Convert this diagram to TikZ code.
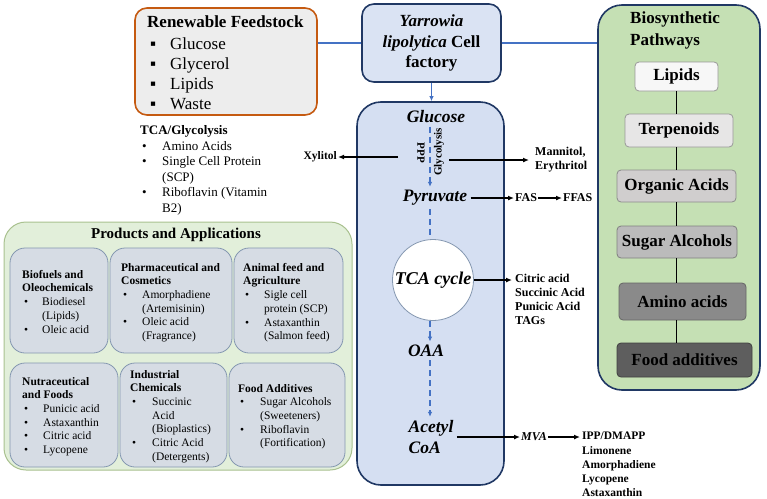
\documentclass[tikz,border=0pt]{standalone}
\usepackage{fontspec}
\setmainfont{Liberation Serif}
\usetikzlibrary{arrows.meta}
\definecolor{feedor}{HTML}{C55A11}
\definecolor{feedfill}{HTML}{EDEDED}
\definecolor{navy}{HTML}{203864}
\definecolor{lblue}{HTML}{DAE3F3}
\definecolor{pblue}{HTML}{D5DFF2}
\definecolor{linkblue}{HTML}{4472C4}
\definecolor{biogreen}{HTML}{C5E0B4}
\definecolor{prodgreen}{HTML}{E2EFDA}
\definecolor{prodedge}{HTML}{A9C18F}
\definecolor{subfill}{HTML}{D6DCE4}
\definecolor{subedge}{HTML}{8497B0}
\definecolor{gA}{HTML}{F7F7F7}
\definecolor{gB}{HTML}{E7E6E6}
\definecolor{gC}{HTML}{D0CECE}
\definecolor{gD}{HTML}{BBBBBB}
\definecolor{gE}{HTML}{8A8A8A}
\definecolor{gF}{HTML}{5E5E5E}
\newcommand{\itm}[2]{\hspace*{2pt}\makebox[#1][l]{•}#2}
\newcommand{\cnt}[2]{\hspace*{2pt}\hspace*{#1}#2}
\begin{document}
\begin{tikzpicture}[x=1pt,y=-1pt,
  feedbox/.style={draw=feedor,line width=1.6pt,fill=feedfill,rounded corners=12pt},
  cellbox/.style={draw=navy,line width=1.6pt,fill=lblue,rounded corners=12pt},
  biobox/.style={draw=navy,line width=1.6pt,fill=biogreen,rounded corners=24pt},
  pathbox/.style={draw=navy,line width=1.6pt,fill=pblue,rounded corners=24pt},
  prodbox/.style={draw=prodedge,line width=1pt,fill=prodgreen,rounded corners=22pt},
  subbox/.style={draw=subedge,line width=0.8pt,fill=subfill,rounded corners=15pt},
  grbox/.style={line width=0.8pt,rounded corners=4pt,font=\bfseries\fontsize{17}{20}\selectfont,text=black},
  link/.style={draw=linkblue,line width=1.5pt},
  arr/.style={draw=black,line width=1.4pt,-{Latex[length=6pt,width=5pt]}},
  darr/.style={draw=linkblue,line width=1.5pt,dash pattern=on 6pt off 4pt,-{Latex[length=5pt,width=4.5pt]}},
  dline/.style={draw=linkblue,line width=1.5pt,dash pattern=on 6pt off 4pt},
  blk/.style={anchor=north west,align=left,inner sep=0pt},
  sm/.style={font=\fontsize{11.5}{13.7}\selectfont},
  pw/.style={font=\bfseries\itshape\fontsize{17.5}{21}\selectfont},
  lab/.style={font=\bfseries\fontsize{12}{14}\selectfont}
]
\useasboundingbox (0,0) rectangle (767,498);

% ---------- Renewable feedstock ----------
\node[feedbox,minimum width=182pt,minimum height=107pt] (feed) at (226,61.5) {};
\node[anchor=west,inner sep=0pt,font=\bfseries\fontsize{17}{20}\selectfont] (feedt) at (147,22) {Renewable Feedstock};
\node[blk,font=\fontsize{17}{20}\selectfont] (feedl) at (150,38) {%
\makebox[20pt][l]{▪}Glucose\\
\makebox[20pt][l]{▪}Glycerol\\
\makebox[20pt][l]{▪}Lipids\\
\makebox[20pt][l]{▪}Waste};

% ---------- Cell factory ----------
\node[cellbox,minimum width=139pt,minimum height=78pt,align=center,
  font=\bfseries\fontsize{17}{20.5}\selectfont] (cell) at (431.5,43)
  {\textit{Yarrowia}\\\textit{lipolytica} Cell\\factory};

% ---------- Biosynthetic pathways ----------
\node[biobox,minimum width=162pt,minimum height=385pt] (bio) at (679,197.5) {};
\node[blk,font=\bfseries\fontsize{17}{21.5}\selectfont] (biot) at (630,12) {Biosynthetic\\Pathways};
\node[grbox,draw=black!40,fill=gA,minimum width=83pt,minimum height=29pt] (lip) at (676.5,76.5) {Lipids};
\node[grbox,draw=black!40,fill=gB,minimum width=108pt,minimum height=33pt] (terp) at (679,130.5) {Terpenoids};
\node[grbox,draw=black!45,fill=gC,minimum width=119pt,minimum height=32pt] (org) at (676.5,186) {Organic Acids};
\node[grbox,draw=black!50,fill=gD,minimum width=120pt,minimum height=32pt] (sug) at (677,242) {Sugar Alcohols};
\node[grbox,draw=black!60,fill=gE,minimum width=127pt,minimum height=37pt] (ami) at (682.5,301.5) {\textcolor{black}{Amino acids}};
\node[grbox,draw=black!75,fill=gF,minimum width=135pt,minimum height=34pt] (food) at (684.5,360) {\textcolor{black}{Food additives}};
\draw[line width=1.2pt] (lip.south) -- (lip.south |- terp.north);
\draw[line width=1.2pt] (terp.south -| lip.south) -- (org.north -| lip.south);
\draw[line width=1.2pt] (org.south -| lip.south) -- (sug.north -| lip.south);
\draw[line width=1.2pt] (sug.south -| lip.south) -- (ami.north -| lip.south);
\draw[line width=1.2pt] (ami.south -| lip.south) -- (food.north -| lip.south);

% ---------- links ----------
\draw[link] (cell.west) -- (cell.west -| feed.east);
\draw[link] (cell.east) -- (cell.east -| bio.west);

% ---------- Pathway box ----------
\node[pathbox,minimum width=147pt,minimum height=383pt] (path) at (430.5,293.5) {};
\draw[link,-{Latex[length=5pt,width=4.5pt]}] (cell.south) -- (cell.south |- path.north);
\coordinate (axis) at (430,0);
\node[pw] (glu) at (436,117) {Glucose};
\node[pw] (pyr) at (435,198) {Pyruvate};
\node[draw=subedge,line width=0.8pt,fill=white,circle,minimum size=81pt,inner sep=0pt,
  font=\bfseries\itshape\fontsize{18}{21}\selectfont] (tca) at (433,280) {TCA cycle};
\node[pw] (oaa) at (426,351) {OAA};
\node[pw,align=left] (acoa) at (431,437) {Acetyl\\CoA};
\draw[darr] (glu.south -| axis) -- (pyr.north -| axis);
\draw[dline] (pyr.south -| axis) -- (tca.north -| axis);
\draw[darr] (tca.south -| axis) -- (oaa.north -| axis);
\draw[darr] (oaa.south -| axis) -- (acoa.north -| axis);
\node[rotate=-90,inner sep=0pt,font=\bfseries\fontsize{11}{13}\selectfont] (ppp) at (421,153) {PPP};
\node[rotate=90,inner sep=0pt,font=\bfseries\fontsize{11}{13}\selectfont] (gly) at (439,152) {Glycolysis};

% ---------- side products ----------
\node[anchor=east,inner sep=1pt,font=\bfseries\fontsize{11.5}{13}\selectfont] (xyl) at (338,157) {Xylitol};
\coordinate (xs) at (398,157);
\draw[arr] (xs) -- (xyl.east);
\node[anchor=west,align=left,inner sep=0pt,lab] (man) at (535,160) {Mannitol,\\Erythritol};
\coordinate (ms) at (449,160);
\draw[arr] (ms) -- ([xshift=-6pt]ms -| man.west);
\node[anchor=west,inner sep=1pt,lab] (fas) at (514,198) {FAS};
\node[anchor=west,inner sep=1pt,lab] (ffas) at (562,198) {FFAS};
\draw[arr] (pyr.east) -- (fas.west);
\draw[arr] (fas.east) -- (ffas.west);
\node[blk,font=\bfseries\fontsize{12}{14}\selectfont] (cit) at (515,273.7) {Citric acid\\Succinic Acid\\Punicic Acid\\TAGs};
\draw[arr] (tca.east) -- ([xshift=-3pt]tca.east -| cit.west);
\node[anchor=west,inner sep=1pt,font=\bfseries\itshape\fontsize{12}{14}\selectfont] (mva) at (520,437) {MVA};
\draw[arr] (acoa.east) -- (acoa.east -| mva.west);
\node[blk,font=\bfseries\fontsize{11.5}{14.3}\selectfont] (ipp) at (582,431.9) {IPP/DMAPP\\Limonene\\Amorphadiene\\Lycopene\\Astaxanthin};
\draw[arr] (mva.east) -- ([xshift=-2pt]mva.east -| ipp.west);

% ---------- TCA/Glycolysis list ----------
\node[blk,font=\fontsize{13}{15.6}\selectfont] (tcal) at (140,125.3) {%
\textbf{TCA/Glycolysis}\\
\itm{20pt}{Amino Acids}\\
\itm{20pt}{Single Cell Protein}\\
\cnt{20pt}{(SCP)}\\
\itm{20pt}{Riboflavin (Vitamin}\\
\cnt{20pt}{B2)}};

% ---------- Products and applications ----------
\node[prodbox,minimum width=348pt,minimum height=248pt] (prod) at (178,346) {};
\node[font=\bfseries\fontsize{15}{18}\selectfont] (prodt) at (176,235) {Products and Applications};
\node[subbox,minimum width=98pt,minimum height=105pt] (s1) at (59,300.5) {};
\node[subbox,minimum width=122pt,minimum height=105pt] (s2) at (171,300.5) {};
\node[subbox,minimum width=109pt,minimum height=105pt] (s3) at (288.5,300.5) {};
\node[subbox,minimum width=108pt,minimum height=104pt] (s4) at (64,415) {};
\node[subbox,minimum width=107pt,minimum height=104pt] (s5) at (173.5,415) {};
\node[subbox,minimum width=116pt,minimum height=104pt] (s6) at (287,415) {};
\node[blk,sm] (t1) at (22,269.9) {\textbf{Biofuels and}\\\textbf{Oleochemicals}\\
\itm{18pt}{Biodiesel}\\\cnt{18pt}{(Lipids)}\\\itm{18pt}{Oleic acid}};
\node[blk,sm] (t2) at (121,262.9) {\textbf{Pharmaceutical and}\\\textbf{Cosmetics}\\
\itm{19pt}{Amorphadiene}\\\cnt{19pt}{(Artemisinin)}\\\itm{19pt}{Oleic acid}\\\cnt{19pt}{(Fragrance)}};
\node[blk,sm] (t3) at (243,262.9) {\textbf{Animal feed and}\\\textbf{Agriculture}\\
\itm{19pt}{Sigle cell}\\\cnt{19pt}{protein (SCP)}\\\itm{19pt}{Astaxanthin}\\\cnt{19pt}{(Salmon feed)}};
\node[blk,sm] (t4) at (22,376.9) {\textbf{Nutraceutical}\\\textbf{and Foods}\\
\itm{19pt}{Punicic acid}\\\itm{19pt}{Astaxanthin}\\\itm{19pt}{Citric acid}\\\itm{19pt}{Lycopene}};
\node[blk,sm] (t5) at (130,369.9) {\textbf{Industrial}\\\textbf{Chemicals}\\
\itm{20pt}{Succinic}\\\cnt{20pt}{Acid}\\\cnt{20pt}{(Bioplastics)}\\\itm{20pt}{Citric Acid}\\\cnt{20pt}{(Detergents)}};
\node[blk,sm] (t6) at (238,383.9) {\textbf{Food Additives}\\
\itm{20pt}{Sugar Alcohols}\\\cnt{20pt}{(Sweeteners)}\\\itm{20pt}{Riboflavin}\\\cnt{20pt}{(Fortification)}};
\end{tikzpicture}
\end{document}
